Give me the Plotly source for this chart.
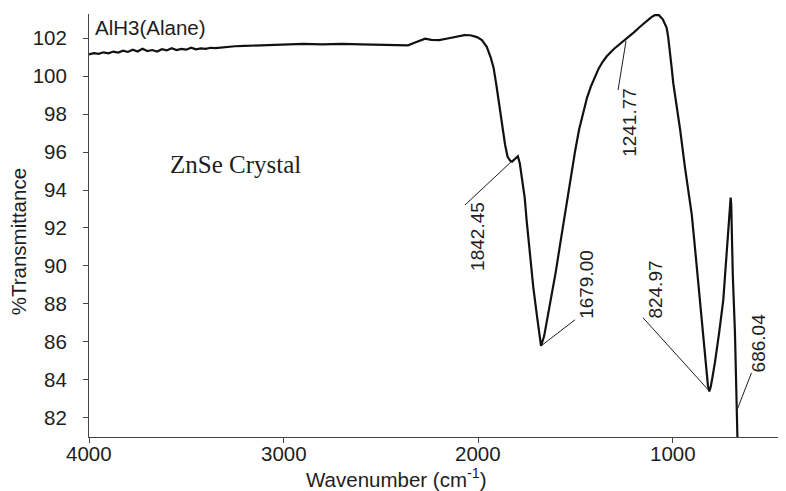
import plotly.graph_objects as go

# Spectrum (wavenumber cm-1, %T)
wavenumber = [4000, 3975, 3950, 3925, 3900, 3875, 3850, 3825, 3800, 3775, 3750, 3725, 3700, 3675,
              3650, 3625, 3600, 3575, 3550, 3525, 3500, 3475, 3450, 3425, 3400, 3375, 3350, 3300,
              3250, 3200, 3150, 3100, 3050, 3000, 2900, 2800, 2700, 2600, 2500, 2400, 2360, 2330,
              2300, 2272, 2240, 2200, 2150, 2100, 2070, 2040, 2005, 1980, 1955, 1935, 1920, 1905,
              1890, 1878, 1861, 1848, 1835, 1825, 1810, 1795, 1785, 1776, 1760, 1750, 1733, 1716,
              1696, 1676, 1660, 1640, 1620, 1600, 1580, 1560, 1540, 1520, 1500, 1480, 1460, 1440,
              1420, 1400, 1380, 1360, 1338, 1300, 1270, 1244, 1220, 1200, 1167, 1140, 1110, 1090,
              1070, 1050, 1039, 1030, 1022, 1013, 1005, 996, 980, 961, 936, 910, 901, 884, 859,
              840, 824, 818, 811, 804, 795, 782, 760, 739, 725, 713, 705, 701, 698, 696, 690,
              679, 672, 667, 664]
transmittance = [101.15, 101.22, 101.18, 101.26, 101.21, 101.30, 101.25, 101.35, 101.28, 101.40,
                 101.30, 101.45, 101.33, 101.38, 101.30, 101.42, 101.36, 101.48, 101.38, 101.44,
                 101.40, 101.50, 101.42, 101.47, 101.44, 101.50, 101.48, 101.55, 101.58, 101.60,
                 101.62, 101.64, 101.66, 101.68, 101.70, 101.68, 101.70, 101.68, 101.66, 101.64,
                 101.63, 101.75, 101.88, 101.98, 101.92, 101.90, 102.00, 102.12, 102.17, 102.16,
                 102.06, 101.90, 101.55, 101.00, 100.45, 99.50, 98.40, 97.70, 96.40, 95.75,
                 95.55, 95.50, 95.62, 95.78, 95.40, 94.80, 93.60, 92.40, 90.70, 88.90,
                 87.30, 85.78, 86.30, 87.40, 88.50, 89.70, 91.00, 92.30, 93.60, 94.90,
                 96.10, 97.20, 98.10, 98.85, 99.45, 99.95, 100.40, 100.75, 101.05, 101.45,
                 101.70, 101.91, 102.10, 102.30, 102.61, 102.85, 103.10, 103.23, 103.22, 103.00,
                 102.79, 102.55, 102.05, 101.35, 100.50, 99.63, 98.60, 97.20, 95.20, 93.50,
                 92.70, 90.90, 88.30, 86.30, 84.70, 83.70, 83.38, 83.60, 84.10, 84.90,
                 86.50, 88.20, 90.20, 91.70, 93.00, 93.60, 93.20, 91.70, 89.50, 86.50,
                 84.00, 82.40, 80.00]

# Peak labels: text, label centre (x, y), leader line start and end
peak_labels = ["1842.45", "1679.00", "1241.77", "824.97", "686.04"]
label_x = [2000, 1440, 1219, 1087, 558]
label_y = [91.53, 89.05, 97.59, 88.73, 85.94]
leader_x0 = [2067, 1501, 1280, 1152, 594]
leader_y0 = [93.21, 87.16, 99.27, 87.27, 84.36]
leader_x1 = [1825, 1676, 1239, 812, 668]
leader_y1 = [95.53, 85.78, 101.86, 83.42, 82.41]

x_ticks = [4000, 3000, 2000, 1000]
x_tick_text = ["4000", "3000", "2000", "1000"]
y_ticks = [82, 84, 86, 88, 90, 92, 94, 96, 98, 100, 102]

FONT = "Liberation Sans, Arial, sans-serif"
INK = "#1e1e1e"

fig = go.Figure()
fig.add_trace(go.Scatter(x=wavenumber, y=transmittance, mode="lines",
                         line=dict(color="#111111", width=2.2), showlegend=False,
                         hoverinfo="skip"))
for i in range(len(peak_labels)):
    fig.add_trace(go.Scatter(x=[leader_x0[i], leader_x1[i]], y=[leader_y0[i], leader_y1[i]],
                             mode="lines", line=dict(color=INK, width=1), showlegend=False,
                             hoverinfo="skip"))
    fig.add_annotation(x=label_x[i], y=label_y[i], text=peak_labels[i], textangle=-90,
                       showarrow=False, xanchor="center", yanchor="middle",
                       font=dict(family=FONT, size=19, color=INK))

# x tick labels (placed a little closer to the axis than plotly's default)
for v, t in zip(x_ticks, x_tick_text):
    fig.add_annotation(x=v, xref="x", yref="paper", y=-0.038, text=t, showarrow=False,
                       xanchor="center", yanchor="middle", borderpad=0,
                       font=dict(family=FONT, size=20.5, color=INK))

fig.add_annotation(xref="paper", yref="paper", x=0.0057, y=0.967, text="AlH3(Alane)",
                   showarrow=False, xanchor="left", yanchor="middle",
                   font=dict(family=FONT, size=20.5, color=INK))
fig.add_annotation(xref="paper", yref="paper", x=0.1133, y=0.645, text="ZnSe Crystal",
                   showarrow=False, xanchor="left", yanchor="middle",
                   font=dict(family="Liberation Serif, Times New Roman, serif", size=25, color=INK))
fig.add_annotation(xref="paper", yref="paper", x=0.4405, y=-0.097,
                   text="Wavenumber (cm<sup>-1</sup>)", showarrow=False,
                   xanchor="center", yanchor="middle",
                   font=dict(family=FONT, size=20.5, color=INK))
fig.add_annotation(xref="paper", yref="paper", x=-0.1, y=0.461, text="%Transmittance",
                   textangle=-90, showarrow=False, xanchor="center", yanchor="middle",
                   borderpad=0, font=dict(family=FONT, size=20.5, color=INK))

fig.update_xaxes(range=[4000, 416.5], tickvals=x_ticks, ticks="outside", ticklen=5,
                 tickwidth=1, tickcolor="#444", showline=True, linecolor="#444", linewidth=1,
                 showgrid=False, zeroline=False, showticklabels=False)
fig.update_yaxes(range=[80.98, 103.28], tickvals=y_ticks, ticks="outside", ticklen=5,
                 tickwidth=1, tickcolor="#444", showline=True, linecolor="#444", linewidth=1,
                 showgrid=False, zeroline=False, ticklabelstandoff=12,
                 tickfont=dict(family=FONT, size=20.5, color=INK))
# page body adds an 8px offset, so the figure is 8px smaller and margins shifted
fig.update_layout(width=778, height=483, margin=dict(l=81, r=0, t=6, b=54),
                  plot_bgcolor="white", paper_bgcolor="white")
fig.write_html("out.html")
